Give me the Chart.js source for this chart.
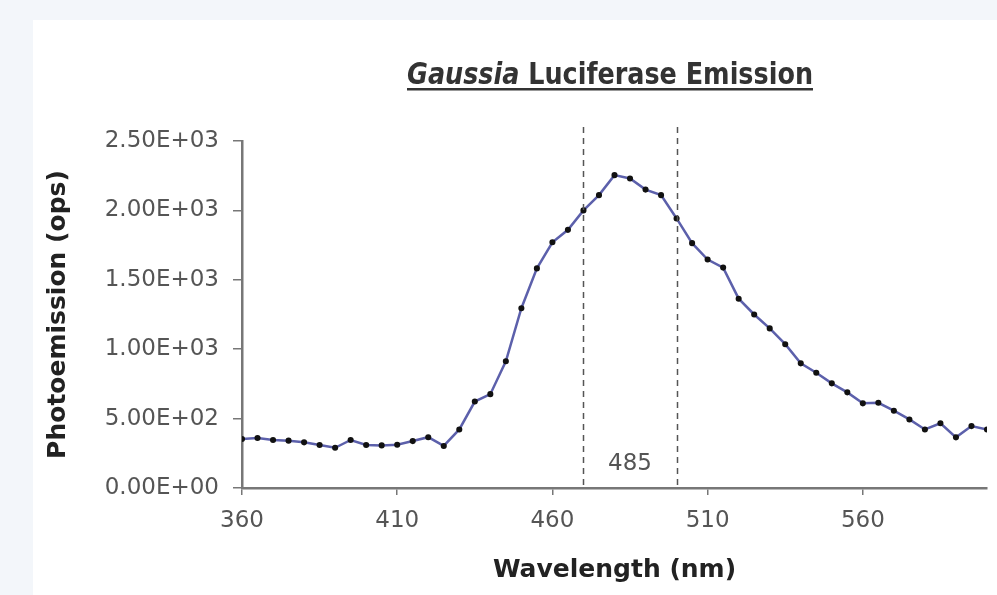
<!DOCTYPE html>
<html>
<head>
<meta charset="utf-8">
<script src="https://cdn.jsdelivr.net/npm/chart.js@4.4.0/dist/chart.umd.min.js"></script>
<style>
  html, body { margin: 0; padding: 0; background: #f3f6fa; }
  #wrap { position: relative; width: 997px; height: 595px; }
</style>
</head>
<body>
<div id="wrap"><canvas id="chartEmission" width="997" height="595"></canvas></div>
<script>
'use strict';

// wavelength (nm), one reading every 5 nm
const wavelengths = [360, 365, 370, 375, 380, 385, 390, 395, 400, 405, 410, 415, 420, 425, 430, 435, 440, 445, 450, 455,
  460, 465, 470, 475, 480, 485, 490, 495, 500, 505, 510, 515, 520, 525, 530, 535, 540, 545, 550, 555,
  560, 565, 570, 575, 580, 585, 590, 595, 600];
const photoemission = [353, 360, 346, 341, 329, 310, 290, 346, 310, 307, 312, 338, 366, 303, 422, 623, 676, 913, 1295, 1582,
  1770, 1860, 2000, 2110, 2254, 2230, 2150, 2110, 1942, 1764, 1646, 1588, 1364, 1250, 1150, 1036, 898, 830, 754, 689,
  610, 614, 557, 494, 422, 466, 365, 446, 422];

const xTickValues = [360, 410, 460, 510, 560];
const yTickValues = [0, 500, 1000, 1500, 2000, 2500];
const markerLines = [470, 500];
const peakLabel = '485';

const points = wavelengths.map(function(w, i) { return { x: w, y: photoemission[i] }; });

const tickFont = { family: 'DejaVu Sans', size: 23 };
const titleFont = { family: 'DejaVu Sans', size: 25, weight: 'bold' };
const headFont = '"DejaVu Sans Condensed", "DejaVu Sans", sans-serif';

// white panel + title + dashed markers
const decorations = {
  id: 'decorations',
  beforeDraw: function(chart) {
    const ctx = chart.ctx;
    ctx.save();
    ctx.fillStyle = '#f3f6fa';
    ctx.fillRect(0, 0, chart.width, chart.height);
    ctx.fillStyle = '#ffffff';
    ctx.fillRect(33, 20, chart.width - 33, chart.height - 20);
    ctx.restore();
  },
  afterDatasetsDraw: function(chart) {
    const ctx = chart.ctx;
    const xs = chart.scales.x, ys = chart.scales.y;
    const area = chart.chartArea;
    ctx.save();
    ctx.strokeStyle = '#555';
    ctx.lineWidth = 1.5;
    ctx.setLineDash([6, 5]);
    markerLines.forEach(function(v) {
      const px = Math.round(xs.getPixelForValue(v)) + 0.5;
      ctx.beginPath();
      ctx.moveTo(px, area.top - 14);
      ctx.lineTo(px, area.bottom);
      ctx.stroke();
    });
    ctx.setLineDash([]);
    ctx.fillStyle = '#555';
    ctx.font = '23px "DejaVu Sans"';
    ctx.textAlign = 'center';
    ctx.textBaseline = 'middle';
    ctx.fillText(peakLabel, xs.getPixelForValue(485), ys.getPixelForValue(170));

    // title: italic genus + underline, squeezed to a condensed look
    const y = 84;
    const part1 = 'Gaussia';
    const part2 = ' Luciferase Emission';
    ctx.fillStyle = '#333';
    ctx.textBaseline = 'alphabetic';
    ctx.textAlign = 'left';
    ctx.font = 'italic bold 30px ' + headFont;
    const w1 = ctx.measureText(part1).width;
    ctx.font = 'bold 30px ' + headFont;
    const w2 = ctx.measureText(part2).width;
    const sx = 406 / (w1 + w2);
    ctx.translate(610 - 203, y);
    ctx.scale(sx, 1);
    ctx.font = 'italic bold 30px ' + headFont;
    ctx.fillText(part1, 0, 0);
    ctx.font = 'bold 30px ' + headFont;
    ctx.fillText(part2, w1, 0);
    ctx.fillRect(0, 4, w1 + w2, 2.5);
    ctx.restore();
  }
};

const config = {
  type: 'line',
  data: {
    datasets: [{
      label: 'Emission',
      data: points,
      borderColor: '#5c60ab',
      borderWidth: 2.5,
      pointBackgroundColor: '#111',
      pointBorderColor: '#111',
      pointRadius: 1.8,
      tension: 0
    }]
  },
  options: {
    responsive: false,
    animation: false,
    layout: { padding: { left: 0, top: 141, right: 10, bottom: 0 } },
    plugins: {
      legend: { display: false },
      tooltip: { enabled: false }
    },
    scales: {
      x: {
        type: 'linear',
        min: 360,
        max: 600,
        afterFit: function(scale) { scale.height = 107; },
        afterBuildTicks: function(scale) {
          scale.ticks = xTickValues.map(function(v) { return { value: v }; });
        },
        grid: { drawOnChartArea: false, color: '#777', tickLength: 7, lineWidth: 1.5 },
        border: { color: '#777', width: 2.5 },
        ticks: { color: '#555', font: tickFont, padding: 12, maxRotation: 0 },
        title: { display: true, text: 'Wavelength (nm)', color: '#222', font: titleFont, padding: { top: 0, bottom: 10 } }
      },
      y: {
        min: 0,
        max: 2500,
        afterFit: function(scale) { scale.width = 242; },
        afterBuildTicks: function(scale) {
          scale.ticks = yTickValues.map(function(v) { return { value: v }; });
        },
        grid: { drawOnChartArea: false, color: '#777', tickLength: 9, lineWidth: 1.5 },
        border: { color: '#777', width: 2.5 },
        ticks: {
          color: '#555',
          font: tickFont,
          padding: 14,
          callback: function(v) {
            return Number(v).toExponential(2).toUpperCase().replace(/E([+-])(\d)$/, 'E$10$2');
          }
        },
        title: { display: true, text: 'Photoemission (ops)', color: '#222', font: titleFont, padding: { top: 43, bottom: 0 } }
      }
    }
  },
  plugins: [decorations]
};

const chartEmission = new Chart(document.getElementById('chartEmission'), config);
</script>
</body>
</html>
